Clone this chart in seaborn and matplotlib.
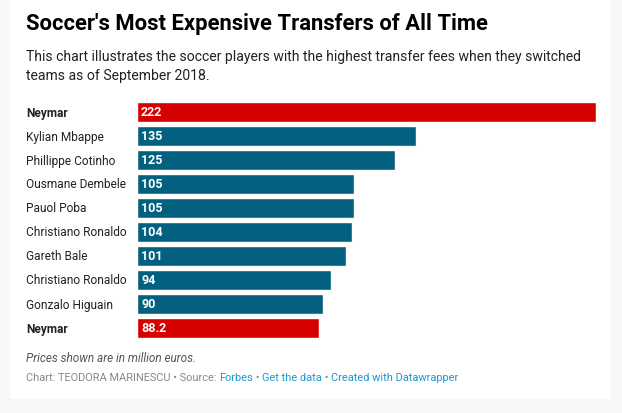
import matplotlib
matplotlib.use("Agg")
import matplotlib.pyplot as plt
import matplotlib.transforms as mtransforms
from matplotlib.patches import Rectangle
import seaborn as sns
import pandas as pd

players = ["Neymar", "Kylian Mbappe", "Phillippe Cotinho", "Ousmane Dembele", "Pauol Poba",
           "Christiano Ronaldo", "Gareth Bale", "Christiano Ronaldo", "Gonzalo Higuain", "Neymar"]
fees = [222, 135, 125, 105, 105, 104, 101, 94, 90, 88.2]
fee_labels = ["222", "135", "125", "105", "105", "104", "101", "94", "90", "88.2"]
highlight = [True, False, False, False, False, False, False, False, False, True]

title = "Soccer's Most Expensive Transfers of All Time"
subtitle = ("This chart illustrates the soccer players with the highest transfer fees when they switched\n"
            "teams as of September 2018.")
note = "Prices shown are in million euros."

RED = "#d50000"
TEAL = "#03607f"

W, H = 622, 414
sns.set_theme(style="white")
plt.rcParams["font.family"] = ["Roboto", "DejaVu Sans"]

fig = plt.figure(figsize=(W / 100, H / 100), dpi=100)
fig.patch.set_facecolor("#f7f7f7")
fig.patches.append(Rectangle((10 / W, 14 / H), 601 / W, 400 / H, transform=fig.transFigure,
                             facecolor="white", edgecolor="none", zorder=-5))

ax = fig.add_axes([137 / W, (H - 341) / H, 459 / W, 240 / H])
ax.set_facecolor("none")
ax.set_zorder(2)

df = pd.DataFrame({"rank": [str(i) for i in range(len(players))],
                   "fee": fees,
                   "hl": ["yes" if h else "no" for h in highlight]})
sns.barplot(data=df, x="fee", y="rank", hue="hl", palette={"yes": RED, "no": TEAL},
            dodge=False, legend=False, width=20 / 24, saturation=1, ax=ax, orient="h")
ax.set_xlim(0, 222)
ax.set_ylim(len(players) - 0.5, -0.5)
ax.set_axis_off()

lab_trans = mtransforms.blended_transform_factory(fig.transFigure, ax.transData)
val_trans = mtransforms.offset_copy(ax.transData, fig=fig, x=4, y=0, units="dots")
for i, (name, lab, h) in enumerate(zip(players, fee_labels, highlight)):
    fig.text(26 / W, i, name, transform=lab_trans, ha="left", va="center",
             fontsize=8.6, color="#222222", fontweight="bold" if h else "normal")
    ax.text(0, i, lab, transform=val_trans, ha="left", va="center",
            fontsize=9, color="white", fontweight="bold")

def fy(px):
    return (H - px) / H

fig.text(26 / W, fy(24), title, ha="left", va="center", fontsize=15.8,
         fontweight="bold", color="#000000")
fig.text(26 / W, fy(66.5), subtitle, ha="left", va="center", fontsize=10.05,
         color="#222222", linespacing=1.4)
fig.text(26 / W, fy(359), note, ha="left", va="center", fontsize=8.5,
         style="italic", color="#555555")

parts = [("Chart: TEODORA MARINESCU • Source: ", "#888888"), ("Forbes", "#1a9ad0"),
         (" • ", "#888888"), ("Get the data", "#1a9ad0"), (" • ", "#888888"),
         ("Created with Datawrapper", "#1a9ad0")]
renderer = fig.canvas.get_renderer()
x = 26
for txt, col in parts:
    t = fig.text(x / W, fy(378), txt, ha="left", va="center", fontsize=7.9, color=col)
    bb = t.get_window_extent(renderer=renderer)
    x += bb.width

fig.savefig("out.png", dpi=100, facecolor=fig.get_facecolor())
